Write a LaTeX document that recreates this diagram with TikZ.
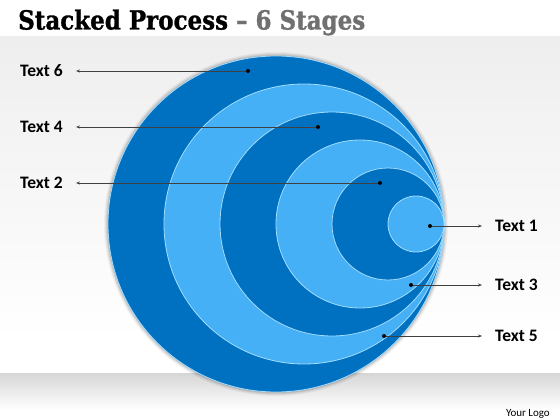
\documentclass[tikz,border=0pt]{standalone}
\usepackage{fontspec}
\setmainfont{Carlito}
\newfontfamily\titlefont{DejaVu Serif}[BoldFeatures={FakeBold=1.2}]
\usetikzlibrary{arrows.meta}
\definecolor{darkblue}{RGB}{0,112,192}
\definecolor{lightblue}{RGB}{69,176,245}
\definecolor{rimblue}{RGB}{160,220,255}
\definecolor{titlegray}{RGB}{112,112,112}
\definecolor{linegray}{RGB}{64,64,64}
\tikzset{
  ringdark/.style={fill=darkblue, draw=rimblue, line width=0.8pt},
  ringlight/.style={fill=lightblue, draw=rimblue, line width=0.8pt},
  dotnode/.style={circle, fill=black, minimum size=4pt, inner sep=0pt},
  lbl/.style={font=\fontsize{17.5}{17.5}\selectfont\bfseries, inner sep=0pt, text depth=0pt},
  arr/.style={draw=linegray, line width=0.6pt, -{Stealth[length=4pt,width=3pt]}, shorten >=13pt}
}
\begin{document}
\begin{tikzpicture}[x=1pt,y=-1pt]
\useasboundingbox (0,0) rectangle (560,420);
\fill[white] (0,0) rectangle (560,420);
\shade[top color={rgb,255:red,238;green,238;blue,238}, bottom color=white] (0,37) rectangle (560,340);
\shade[top color={rgb,255:red,214;green,214;blue,214}, bottom color=white] (0,373) rectangle (560,410);
% title
\node[anchor=base west, inner sep=0pt] (title) at (18,29.5)
  {\resizebox{347pt}{20pt}{\titlefont\bfseries Stacked Process {\color{titlegray}\symbol{"2013} 6 Stages}}};
% soft shadow
\foreach \s/\o in {4/0.04,3/0.05,2/0.07,1/0.09}
  \fill[black, opacity=\o] (276,224) circle[radius=168+\s];
% circles
\fill[ringdark] (276,224) circle[radius=168];
\fill[ringlight] (304,224) circle[radius=140];
\fill[ringdark] (332,224) circle[radius=112];
\fill[ringlight] (360,224) circle[radius=84];
\fill[ringdark] (388,224) circle[radius=56];
\fill[ringlight] (416,224) circle[radius=28];
% dots
\node[dotnode] (d6) at (248,71) {};
\node[dotnode] (d4) at (318,127) {};
\node[dotnode] (d2) at (380,183) {};
\node[dotnode] (d1) at (430,226) {};
\node[dotnode] (d3) at (411,285) {};
\node[dotnode] (d5) at (384,336) {};
% labels
\node[lbl, anchor=west] (t6) at (20,71) {Text 6};
\node[lbl, anchor=west] (t4) at (20,127) {Text 4};
\node[lbl, anchor=west] (t2) at (20,183) {Text 2};
\node[lbl, anchor=west] (t1) at (495,226) {Text 1};
\node[lbl, anchor=west] (t3) at (495,285) {Text 3};
\node[lbl, anchor=west] (t5) at (495,336) {Text 5};
% connectors
\foreach \n in {6,4,2,1,3,5}
  \draw[arr] (d\n) -- (t\n);
\node[anchor=base east, inner sep=0pt, font=\fontsize{11}{11}\selectfont] (logo) at (550,416) {Your Logo};
\end{tikzpicture}
\end{document}
